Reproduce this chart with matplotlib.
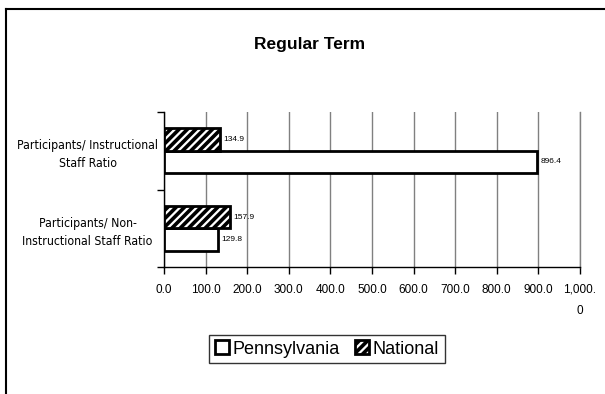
import matplotlib.pyplot as plt
from matplotlib.lines import Line2D
from matplotlib import font_manager
import numpy as np

# Data
categories = ['Participants/ Non-\nInstructional Staff Ratio',
              'Participants/ Instructional\nStaff Ratio']
pennsylvania = [129.8, 896.4]
national = [157.9, 134.9]
x_ticks = [0, 100, 200, 300, 400, 500, 600, 700, 800, 900, 1000]
x_labels = ['0.0', '100.0', '200.0', '300.0', '400.0', '500.0',
            '600.0', '700.0', '800.0', '900.0', '1,000.\n0']

# pick a condensed face if the system has one
condensed = None
for f in font_manager.fontManager.ttflist:
    if f.stretch in ('condensed', 'semi-condensed', 600, 700) or 'Narrow' in f.name or 'Condensed' in f.name:
        condensed = f
        break

plt.rcParams['font.family'] = ['Liberation Sans', 'DejaVu Sans']
plt.rcParams['hatch.linewidth'] = 2.6

if condensed is not None:
    cat_font = dict(family=[condensed.name, 'DejaVu Sans'], stretch=condensed.stretch, fontsize=8.8)
else:
    cat_font = dict(family=['Liberation Sans', 'DejaVu Sans'], fontsize=8.3)

fig = plt.figure(figsize=(6.05, 3.94), dpi=100)
ax = fig.add_axes([164 / 605, 1 - 267 / 394, 416 / 605, 155 / 394])

pos = np.arange(len(categories))
h = 0.29

# Bars
ax.barh(pos - h / 2, pennsylvania, height=h, color='white',
        edgecolor='black', linewidth=2, zorder=3, label='Pennsylvania')
ax.barh(pos + h / 2, national, height=h, color='white', hatch='////',
        edgecolor='black', linewidth=2, zorder=3, label='National')

# Value labels
for p, v in zip(pos, pennsylvania):
    ax.text(v + 8, p - h / 2, '%.1f' % v, va='center', ha='left', fontsize=6)
for p, v in zip(pos, national):
    ax.text(v + 8, p + h / 2, '%.1f' % v, va='center', ha='left', fontsize=6)

ax.set_xlim(0, 1000)
ax.set_ylim(-0.5, 1.5)
ax.set_xticks(x_ticks)
ax.set_xticklabels(x_labels, fontsize=8.5, linespacing=2.0, va='top')
ax.set_yticks([-0.5, 0.5, 1.5])
ax.set_yticklabels([])
ax.set_yticks(pos, minor=True)
ax.set_yticklabels(categories, minor=True, ha='center', linespacing=1.5, **cat_font)
ax.tick_params(axis='y', which='minor', length=0, pad=55)
ax.tick_params(axis='y', which='major', length=5, width=1)
ax.tick_params(axis='x', length=5, width=1, pad=7)

ax.grid(axis='x', color='#808080', linewidth=1, zorder=0)
ax.spines['top'].set_visible(False)
ax.spines['right'].set_color('#808080')
ax.spines['right'].set_linewidth(1)
ax.spines['left'].set_linewidth(1)
ax.spines['bottom'].set_linewidth(1)

fig.text(310 / 605, 1 - 45 / 394, 'Regular Term', fontsize=12.5, fontweight='bold',
         ha='center', va='center')

# Legend
handles, labels = ax.get_legend_handles_labels()
leg = fig.legend(handles, labels, loc='center', bbox_to_anchor=(327 / 605, 1 - 349 / 394),
                 ncol=2, fontsize=13, frameon=True, fancybox=False, edgecolor='black',
                 handlelength=0.8, handleheight=0.8, handletextpad=0.2,
                 columnspacing=0.8, borderpad=0.3)
leg.get_frame().set_linewidth(1)

# Outer chart border (top and left)
fig.add_artist(Line2D([6 / 605, 1], [1 - 9 / 394, 1 - 9 / 394], color='black', linewidth=1.5))
fig.add_artist(Line2D([6 / 605, 6 / 605], [0, 1 - 9 / 394], color='black', linewidth=1.5))

fig.savefig('out.png', dpi=100)
